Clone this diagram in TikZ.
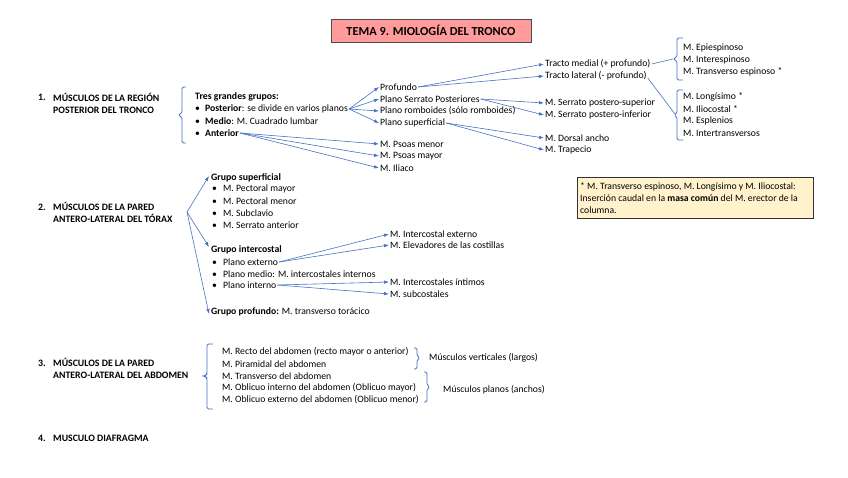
\documentclass[tikz,border=0pt]{standalone}
\usepackage{fontspec}
\setmainfont{Carlito}
\usetikzlibrary{arrows.meta}
\definecolor{ablue}{HTML}{4472C4}
\definecolor{titlefill}{HTML}{FF9B9B}
\definecolor{notefill}{HTML}{FFF2CC}
\newcommand{\bul}{\makebox[10pt][l]{\textbullet}}
\begin{document}
\begin{tikzpicture}[x=1pt,y=-1pt,
  t/.style={anchor=west,inner sep=1pt,font=\fontsize{9.7}{12}\selectfont,align=left},
  h/.style={t,font=\fontsize{9.8}{12}\selectfont\bfseries},
  arr/.style={ablue,-{Latex[length=5pt,width=3.5pt]},line width=0.6pt},
  ln/.style={ablue,line width=0.6pt},
  br/.style={ablue,line width=0.8pt,rounded corners=1.5pt}]
\useasboundingbox (0,0) rectangle (848,477);

% title
\node[draw=black!70,fill=titlefill,line width=0.8pt,minimum width=200pt,minimum height=23pt,inner sep=0pt,font=\fontsize{12.3}{14}\selectfont\bfseries] (title) at (431,30.5) {TEMA 9. MIOLOGÍA DEL TRONCO};

% ---------- section 1
\node[h] (n1) at (37,97) {1.};
\node[h] (s1) at (52,103) {MÚSCULOS DE LA REGIÓN\\POSTERIOR DEL TRONCO};
\draw[br] (186,87) -- (182,87) -- (182,113) -- (178,115) -- (182,117) -- (182,143) -- (186,143);
\node[h] (tres) at (194,97) {Tres grandes grupos:};
\node[t] (post) at (194,109) {\bul\textbf{Posterior}: se divide en varios planos};
\node[t] (med) at (194,121) {\bul\textbf{Medio}: M. Cuadrado lumbar};
\node[t] (ant) at (194,133) {\bul\textbf{Anterior}};

\node[t] (prof) at (379,87) {Profundo};
\node[t] (pserr) at (379,99) {Plano Serrato Posteriores};
\node[t] (prom) at (379,111) {Plano romboides (sólo romboides)};
\node[t] (psup) at (379,123) {Plano superficial};
\node[t] (pme) at (379,144) {M. Psoas menor};
\node[t] (pma) at (379,156) {M. Psoas mayor};
\node[t] (ili) at (379,168) {M. Iliaco};

\node[t] (tmed) at (544,64) {Tracto medial (+ profundo)};
\node[t] (tlat) at (544,76) {Tracto lateral (- profundo)};
\node[t] (sps) at (544,103) {M. Serrato postero-superior};
\node[t] (spi) at (544,115) {M. Serrato postero-inferior};
\node[t] (dor) at (544,138) {M. Dorsal ancho};
\node[t] (tra) at (544,150) {M. Trapecio};

\draw[br] (683,38) -- (677,38) -- (677,57) -- (673,59) -- (677,61) -- (677,80) -- (683,80);
\coordinate (b1) at (673,59);
\node[t] (epi) at (682,48) {M. Epiespinoso};
\node[t] (inter) at (682,60) {M. Interespinoso};
\node[t] (trans) at (682,72) {M. Transverso espinoso *};

\draw[br] (683,90) -- (677,90) -- (677,113) -- (674,115) -- (677,117) -- (677,140) -- (683,140);
\coordinate (b2) at (675,114);
\node[t] (lon) at (682,97) {M. Longísimo *};
\node[t] (ilio) at (682,109) {M. Iliocostal *};
\node[t] (esp) at (682,121) {M. Esplenios};
\node[t] (intt) at (682,133) {M. Intertransversos};

\foreach \a in {prof,pserr,prom,psup} \draw[arr] (post.east) -- (\a.west);
\foreach \a in {pme,pma,ili} \draw[arr] (ant.east) -- (\a.west);
\foreach \a in {tmed,tlat} \draw[arr] (prof.east) -- (\a.west);
\foreach \a in {sps,spi} \draw[arr] (pserr.east) -- (\a.west);
\foreach \a in {dor,tra} \draw[arr] (psup.east) -- (\a.west);
\draw[ln] (tmed.east) -- (b1);
\draw[ln] ([yshift=-2pt]tlat.east) -- (b2);

% note
\node[draw=black!80,fill=notefill,line width=0.8pt,minimum width=236pt,minimum height=41pt,inner sep=0pt] (notebox) at (695,197.5) {};
\node[t] (note) at (579,198) {* M. Transverso espinoso, M. Longísimo y M. Iliocostal:\\Inserción caudal en la \textbf{masa común} del M. erector de la\\columna.};

% ---------- section 2
\node[h] (n2) at (37,207) {2.};
\node[h] (s2) at (52,212.5) {MÚSCULOS DE LA PARED\\ANTERO-LATERAL DEL TÓRAX};
\coordinate (s2o) at (187,212);
\node[h] (gs) at (210,178) {Grupo superficial};
\node[t] (pmay) at (211,189) {\makebox[11pt][l]{\textbullet}M. Pectoral mayor};
\node[t] (pmen) at (211,201) {\makebox[11pt][l]{\textbullet}M. Pectoral menor};
\node[t] (subcl) at (211,213) {\makebox[11pt][l]{\textbullet}M. Subclavio};
\node[t] (sant) at (211,225) {\makebox[11pt][l]{\textbullet}M. Serrato anterior};
\node[h] (gi) at (210,250) {Grupo intercostal};
\node[t] (pext) at (211,262) {\makebox[11pt][l]{\textbullet}Plano externo};
\node[t] (pmed) at (211,274) {\makebox[11pt][l]{\textbullet}Plano medio: M. intercostales internos};
\node[t] (pint) at (211,285) {\makebox[11pt][l]{\textbullet}Plano interno};
\node[t] (gp) at (210,312) {\textbf{Grupo profundo:} M. transverso torácico};

\node[t] (ice) at (389,234) {M. Intercostal externo};
\node[t] (elev) at (389,245) {M. Elevadores de las costillas};
\node[t] (ici) at (389,282) {M. Intercostales íntimos};
\node[t] (subc) at (389,294) {M. subcostales};

\draw[arr] (s2o) -- ([xshift=-1pt,yshift=2pt]gs.west);
\draw[arr] (s2o) -- ([xshift=-1pt,yshift=3pt]gi.west);
\draw[arr] (s2o) -- ([xshift=-1pt,yshift=-2pt]gp.west);
\foreach \a in {ice,elev} \draw[arr] (pext.east) -- (\a.west);
\foreach \a in {ici,subc} \draw[arr] (pint.east) -- (\a.west);

% ---------- section 3
\node[h] (n3) at (37,363) {3.};
\node[h] (s3) at (52,368.5) {MÚSCULOS DE LA PARED\\ANTERO-LATERAL DEL ABDOMEN};
\draw[br] (213,344) -- (207,344) -- (207,374) -- (205,376) -- (200,376) -- (205,376) -- (207,378) -- (207,409) -- (213,409);
\node[t] (rec) at (221,352) {M. Recto del abdomen (recto mayor o anterior)};
\node[t] (pir) at (221,364) {M. Piramidal del abdomen};
\node[t] (trv) at (221,376) {M. Transverso del abdomen};
\node[t] (obi) at (221,388) {M. Oblicuo interno del abdomen (Oblicuo mayor)};
\node[t] (obe) at (221,400) {M. Oblicuo externo del abdomen (Oblicuo menor)};
\draw[br] (414,348) -- (417,348) -- (417,356) -- (420,358) -- (417,360) -- (417,369) -- (414,369);
\node[t] (mv) at (428,358) {Músculos verticales (largos)};
\draw[br] (424,372) -- (427,372) -- (427,385) -- (430,387) -- (427,389) -- (427,402) -- (424,402);
\node[t] (mp) at (442,390) {Músculos planos (anchos)};

% ---------- section 4
\node[h] (n4) at (37,438) {4.};
\node[h] (s4) at (52,438) {MUSCULO DIAFRAGMA};
\end{tikzpicture}
\end{document}
